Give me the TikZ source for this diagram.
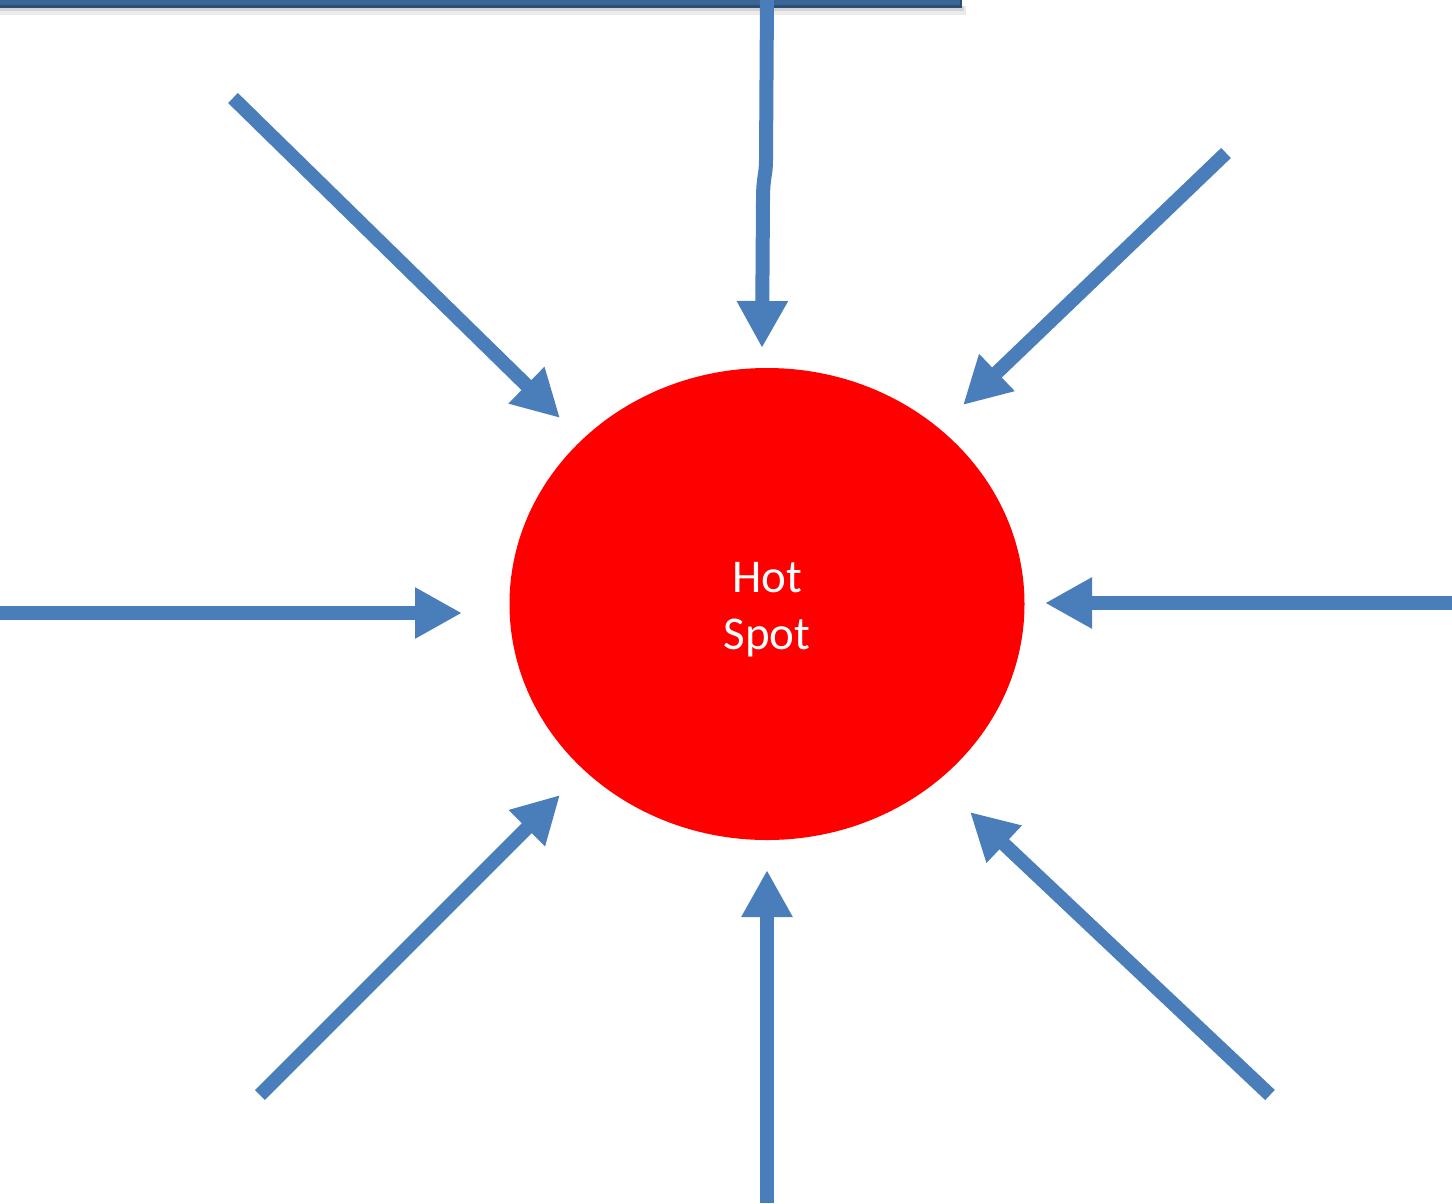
\documentclass[tikz,border=0pt]{standalone}
\usepackage{fontspec}
\setmainfont{Carlito}
\usetikzlibrary{arrows.meta,shapes.geometric}
\definecolor{arrowblue}{HTML}{4A7EBB}
\definecolor{barblue}{HTML}{3B6497}
\definecolor{bardark}{HTML}{2C4D76}
\definecolor{hotred}{HTML}{FF0000}
\tikzset{
  flow/.style={draw=arrowblue, line width=14pt, line cap=butt,
    -{Triangle[width=48pt,length=47pt]}},
  spot/.style={ellipse, fill=hotred, minimum width=515pt, minimum height=472pt, inner sep=0pt},
  spottext/.style={text=white, font=\fontsize{47}{57}\selectfont, align=center}
}
\begin{document}
\begin{tikzpicture}[x=1pt,y=-1pt]
\useasboundingbox (0,0) rectangle (1452,1203);
% top bar with shadow
\fill[black,opacity=0.08] (0,6) rectangle (966,15);
\fill[black,opacity=0.10] (0,6) rectangle (964,11);
\fill[bardark] (-5,-20) rectangle (962,8);
\fill[barblue] (-5,-20) rectangle (960,5);
% hot spot
\node[spot] (hs) at (767,604) {};
\node[spottext] (lbl) at (767,610) {Hot\\Spot};
% start coordinates
\coordinate (sT) at (767,-2);
\coordinate (sTL) at (233,98);
\coordinate (sTR) at (1226,153);
\coordinate (sL) at (0,613);
\coordinate (sR) at (1452,603);
\coordinate (sBL) at (260,1095);
\coordinate (sB) at (767,1203);
\coordinate (sBR) at (1270,1095);
% tip coordinates
\coordinate (eT) at (762,348);
\coordinate (eTL) at (560,418);
\coordinate (eTR) at (963,405);
\coordinate (eL) at (462,613);
\coordinate (eR) at (1045,603);
\coordinate (eBL) at (560,795);
\coordinate (eB) at (767,870);
\coordinate (eBR) at (970,812);
% arrows
\draw[flow] (sT) -- (766,160) .. controls (766,176) and (763,176) .. (763,200) -- (eT);
\draw[flow] (sTL) -- (eTL);
\draw[flow] (sTR) -- (eTR);
\draw[flow] (sL) -- (eL);
\draw[flow] (sR) -- (eR);
\draw[flow] (sBL) -- (eBL);
\draw[flow] (sB) -- (eB);
\draw[flow] (sBR) -- (eBR);
\end{tikzpicture}
\end{document}
